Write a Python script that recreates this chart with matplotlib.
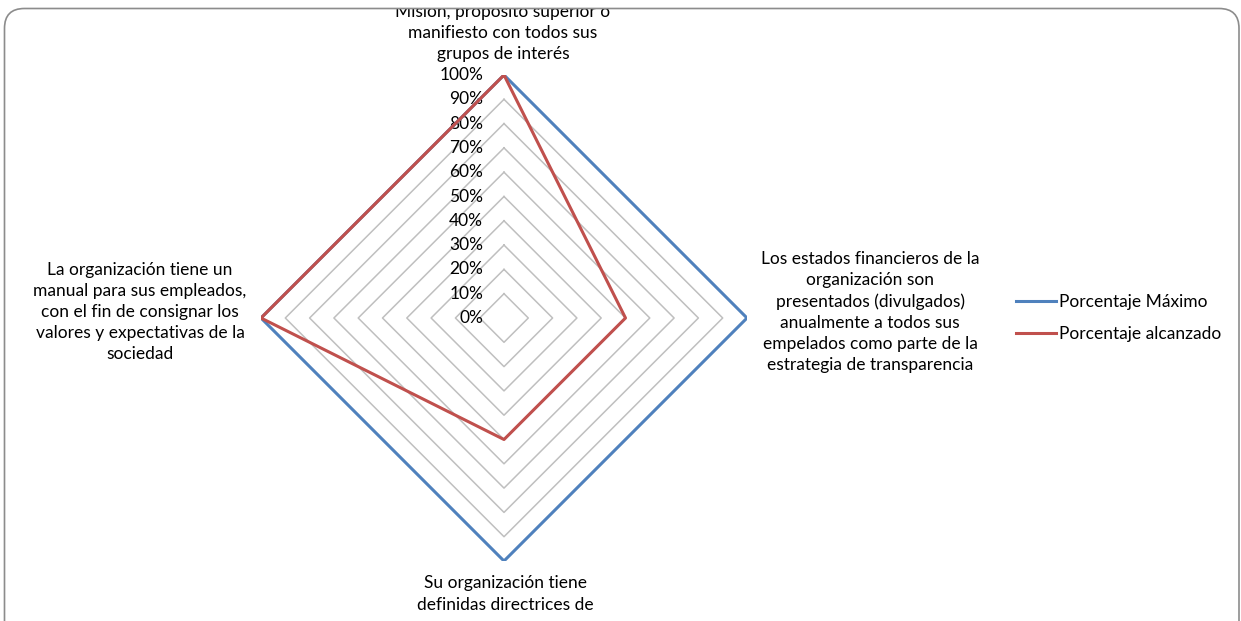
import numpy as np
import matplotlib.pyplot as plt
from matplotlib.patches import FancyBboxPatch, Rectangle

plt.rcParams['font.family'] = ['Lato', 'DejaVu Sans']

categorias = [
    "Su organización comunica su Visión,\nMisión, propósito superior o\nmanifiesto con todos sus\ngrupos de interés",
    "Los estados financieros de la\norganización son\npresentados (divulgados)\nanualmente a todos sus\nempelados como parte de la\nestrategia de transparencia",
    "Su organización tiene\ndefinidas directrices de",
    "La organización tiene un\nmanual para sus empleados,\ncon el fin de consignar los\nvalores y expectativas de la\nsociedad",
]
porcentaje_maximo = [100, 100, 100, 100]
porcentaje_alcanzado = [100, 50, 50, 100]
niveles = [10, 20, 30, 40, 50, 60, 70, 80, 90, 100]
series = ["Porcentaje Máximo", "Porcentaje alcanzado"]
colores = ["#4F81BD", "#C0504D"]

W, H = 1241, 621
fig = plt.figure(figsize=(W / 100, H / 100), dpi=100)
cx, cy, R = 504, 318, 243
ax = fig.add_axes([(cx - R) / W, (H - cy - R) / H, 2 * R / W, 2 * R / H],
                  projection='polar')
ax.set_theta_offset(np.pi / 2)
ax.set_theta_direction(-1)
ax.set_ylim(0, 100)
ax.grid(False)
ax.set_xticks([])
ax.set_yticks([])
ax.spines['polar'].set_visible(False)
ax.patch.set_visible(False)

ang = np.linspace(0, 2 * np.pi, len(categorias), endpoint=False)
ang_c = np.append(ang, ang[0])

for n in niveles:
    ax.plot(ang_c, [n] * len(ang_c), color='#BFBFBF', lw=1.1, zorder=1)
for n in [0] + niveles:
    ax.annotate(f'{n}%', (0, n), xytext=(-15, 0), textcoords='offset points',
                ha='right', va='center', fontsize=12.5, color='#000000')

for vals, lab, col in zip([porcentaje_maximo, porcentaje_alcanzado], series, colores):
    v = np.append(vals, vals[0])
    ax.plot(ang_c, v, color=col, lw=2.2, label=lab, zorder=3)

# etiquetas de categorias (posiciones en pixeles)
pos = [(503, 62), (870, 312), (505, 594), (140, 312)]
for txt, (px, py), k in zip(categorias, pos, range(4)):
    if k == 0:
        fig.text(px / W, 1 - py / H, txt, ha='center', va='bottom',
                 fontsize=12.5, linespacing=1.4)
    else:
        fig.text(px / W, 1 - py / H, txt, ha='center', va='center',
                 fontsize=12.5, linespacing=1.4)

fig.legend(loc='center left', bbox_to_anchor=(1000 / W, 1 - 318 / H),
           frameon=False, fontsize=12.5, handlelength=2.3, handletextpad=0.2,
           labelspacing=0.95)

# borde redondeado del grafico
fig.patches.append(Rectangle((0, 1 - 8 / H), 1, 8 / H, transform=fig.transFigure,
                             facecolor='white', edgecolor='none', zorder=10))
fig.patches.append(FancyBboxPatch((4.5 / W, -20 / H), 1234.5 / W, (H - 8.5 + 20) / H,
                                  boxstyle='round,pad=0,rounding_size=0.016',
                                  transform=fig.transFigure, facecolor='none',
                                  edgecolor='#8C8C8C', lw=1.2, zorder=11,
                                  mutation_aspect=W / H))

fig.savefig('out.png', dpi=100)
